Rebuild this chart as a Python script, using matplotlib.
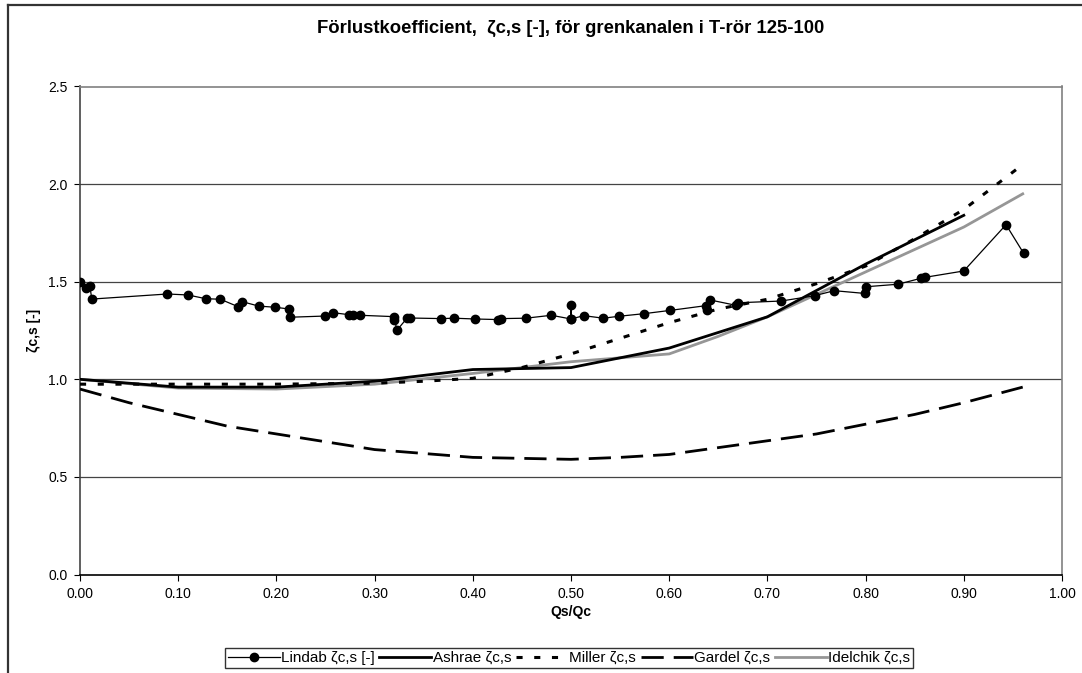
import matplotlib
matplotlib.use("Agg")
import matplotlib.pyplot as plt
from matplotlib.lines import Line2D

plt.rcParams["font.family"] = ["Liberation Sans", "DejaVu Sans"]

# Lindab measurements
lindab_x = [0.000, 0.006, 0.010, 0.012, 0.089, 0.110, 0.128, 0.143, 0.161, 0.165,
            0.182, 0.199, 0.213, 0.214, 0.249, 0.258, 0.274, 0.278, 0.285, 0.320,
            0.320, 0.323, 0.333, 0.336, 0.368, 0.381, 0.402, 0.426, 0.429, 0.454,
            0.480, 0.500, 0.500, 0.500, 0.513, 0.533, 0.549, 0.574, 0.601, 0.637,
            0.639, 0.642, 0.668, 0.670, 0.714, 0.748, 0.768, 0.799, 0.800, 0.833,
            0.856, 0.860, 0.900, 0.943, 0.961]
lindab_z = [1.497, 1.466, 1.480, 1.411, 1.437, 1.432, 1.413, 1.410, 1.372, 1.398,
            1.375, 1.369, 1.360, 1.318, 1.324, 1.341, 1.331, 1.329, 1.328, 1.321,
            1.304, 1.253, 1.313, 1.314, 1.311, 1.313, 1.309, 1.306, 1.311, 1.313,
            1.328, 1.309, 1.381, 1.309, 1.326, 1.313, 1.323, 1.336, 1.353, 1.377,
            1.355, 1.406, 1.379, 1.392, 1.401, 1.428, 1.454, 1.440, 1.474, 1.487,
            1.517, 1.522, 1.555, 1.792, 1.645]

ashrae_x = [0.0, 0.1, 0.2, 0.3, 0.4, 0.5, 0.6, 0.7, 0.8, 0.9]
ashrae_z = [1.00, 0.96, 0.96, 0.99, 1.05, 1.06, 1.16, 1.32, 1.59, 1.84]

miller_x = [0.0, 0.1, 0.2, 0.3, 0.35, 0.4, 0.45, 0.5, 0.55, 0.6, 0.65, 0.7,
            0.75, 0.8, 0.85, 0.9, 0.96]
miller_z = [0.975, 0.975, 0.975, 0.98, 0.99, 1.005, 1.06, 1.13, 1.21, 1.29, 1.36,
            1.41, 1.49, 1.58, 1.72, 1.87, 2.10]

gardel_x = [0.0, 0.05, 0.1, 0.15, 0.2, 0.25, 0.3, 0.35, 0.4, 0.45, 0.5, 0.55,
            0.6, 0.65, 0.7, 0.75, 0.8, 0.85, 0.9, 0.96]
gardel_z = [0.95, 0.88, 0.82, 0.76, 0.72, 0.68, 0.64, 0.62, 0.60, 0.595, 0.59,
            0.60, 0.615, 0.65, 0.685, 0.72, 0.77, 0.82, 0.88, 0.96]

idelchik_x = [0.0, 0.1, 0.2, 0.3, 0.4, 0.5, 0.6, 0.65, 0.7, 0.8, 0.9, 0.96]
idelchik_z = [1.00, 0.955, 0.95, 0.975, 1.03, 1.09, 1.13, 1.22, 1.32, 1.55, 1.78, 1.95]

yticks = [0.0, 0.5, 1.0, 1.5, 2.0, 2.5]
xticks = [0.0, 0.1, 0.2, 0.3, 0.4, 0.5, 0.6, 0.7, 0.8, 0.9, 1.0]

fig = plt.figure(figsize=(10.82, 6.73), dpi=100)
ax = fig.add_axes([80 / 1082, 1 - 574.5 / 673, 982 / 1082, 488 / 673])

# outer chart border (left and top only visible)
fig.add_artist(Line2D([8 / 1082, 8 / 1082], [0, 1 - 5 / 673], transform=fig.transFigure,
                      color="#333333", lw=1.6))
fig.add_artist(Line2D([8 / 1082, 1], [1 - 5 / 673, 1 - 5 / 673], transform=fig.transFigure,
                      color="#333333", lw=1.6))

for y in yticks[1:-1]:
    ax.axhline(y, color="#444444", lw=0.9, zorder=1)

ax.plot(gardel_x, gardel_z, color="black", lw=2.0, linestyle=(0, (8, 3.6)),
        label="Gardel ζc,s", zorder=3)
ax.plot(idelchik_x, idelchik_z, color="#969696", lw=2.0, label="Idelchik ζc,s", zorder=3)
ax.plot(ashrae_x, ashrae_z, color="black", lw=2.0, label="Ashrae ζc,s", zorder=4)
ax.plot(miller_x, miller_z, color="black", lw=2.2, linestyle=(0, (2.0, 3.8)),
        label="Miller ζc,s", zorder=4)
ax.plot(lindab_x, lindab_z, color="black", lw=0.9, marker="o", markersize=6,
        label="Lindab ζc,s [-]", zorder=5)

ax.set_xlim(0, 1.0)
ax.set_ylim(0, 2.5)
ax.set_xticks(xticks)
ax.set_yticks(yticks)
ax.set_xticklabels([f"{v:.2f}" for v in xticks])
ax.set_yticklabels([f"{v:.1f}" for v in yticks])
ax.tick_params(direction="out", length=4, width=0.8, labelsize=10, colors="black", pad=5)

for side in ["top", "right"]:
    ax.spines[side].set_color("#808080")
    ax.spines[side].set_linewidth(1.2)
ax.spines["left"].set_color("#444444")
ax.spines["left"].set_linewidth(1.2)
ax.spines["bottom"].set_color("black")
ax.spines["bottom"].set_linewidth(1.2)

ax.set_xlabel("Qs/Qc", fontsize=10, fontweight="bold", labelpad=3)
ax.set_ylabel("ζc,s [-]", fontsize=10, fontweight="bold", labelpad=5)

fig.text(0.527, 1 - 28 / 673, "Förlustkoefficient,  ζc,s [-], för grenkanalen i T-rör 125-100",
         ha="center", va="center", fontsize=13.3, fontweight="bold")

order = ["Lindab ζc,s [-]", "Ashrae ζc,s", "Miller ζc,s", "Gardel ζc,s", "Idelchik ζc,s"]
handles, labels = ax.get_legend_handles_labels()
hmap = dict(zip(labels, handles))
leg = fig.legend([hmap[k] for k in order], order, loc="center",
                 bbox_to_anchor=(569 / 1082, 1 - 658 / 673), ncol=5, fontsize=11,
                 frameon=True, fancybox=False, edgecolor="black", handlelength=3.4,
                 handletextpad=0.1, columnspacing=0.3, borderpad=0.2)
leg.get_frame().set_linewidth(1.0)

fig.savefig("out.png", dpi=100)
